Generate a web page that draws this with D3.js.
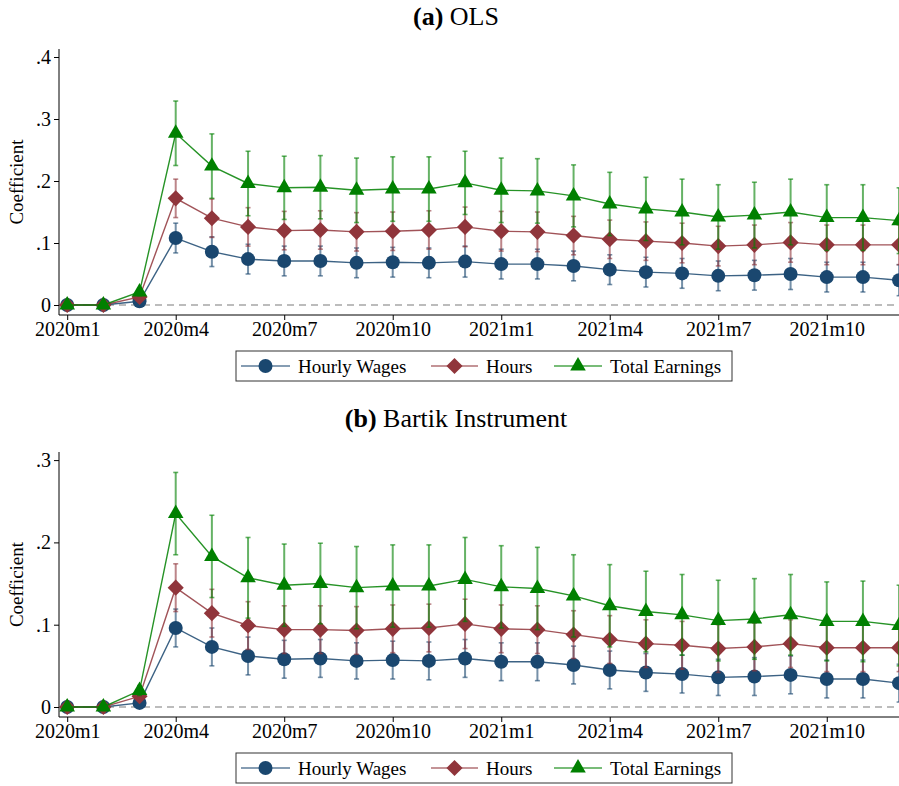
<!DOCTYPE html>
<html>
<head>
<meta charset="utf-8">
<script src="https://cdn.jsdelivr.net/npm/d3@7"></script>
<style>
  body { margin: 0; background: #fff; }
  svg { display: block; font-family: "Liberation Serif", "Times New Roman", serif; }
</style>
</head>
<body>
<div id="chart"></div>
<script>
// months on the x axis
var months = ["2020m1","2020m2","2020m3","2020m4","2020m5","2020m6","2020m7","2020m8","2020m9","2020m10","2020m11","2020m12",
              "2021m1","2021m2","2021m3","2021m4","2021m5","2021m6","2021m7","2021m8","2021m9","2021m10","2021m11","2021m12"];
var xTickLabels = ["2020m1","2020m4","2020m7","2020m10","2021m1","2021m4","2021m7","2021m10"];
var seriesNames = ["Hourly Wages", "Hours", "Total Earnings"];

// (a) OLS coefficients and half width of the 95% CI
var olsWages    = [0, 0, 0.006, 0.108, 0.086, 0.074, 0.071, 0.071, 0.068, 0.069, 0.068, 0.070, 0.066, 0.066, 0.063, 0.057, 0.053, 0.051, 0.047, 0.048, 0.050, 0.045, 0.045, 0.040];
var olsWagesCI  = [0, 0, 0.003, 0.024, 0.024, 0.024, 0.024, 0.024, 0.024, 0.024, 0.024, 0.025, 0.024, 0.024, 0.024, 0.024, 0.024, 0.024, 0.024, 0.024, 0.025, 0.024, 0.024, 0.025];
var olsHours    = [0, 0, 0.013, 0.172, 0.140, 0.126, 0.120, 0.121, 0.118, 0.119, 0.121, 0.126, 0.119, 0.118, 0.112, 0.106, 0.103, 0.100, 0.095, 0.097, 0.101, 0.097, 0.097, 0.097];
var olsHoursCI  = [0, 0, 0.004, 0.031, 0.031, 0.031, 0.031, 0.031, 0.031, 0.031, 0.031, 0.032, 0.032, 0.032, 0.031, 0.031, 0.031, 0.032, 0.032, 0.032, 0.032, 0.032, 0.032, 0.032];
var olsEarn     = [0, 0, 0.021, 0.277, 0.224, 0.196, 0.189, 0.190, 0.185, 0.187, 0.187, 0.197, 0.185, 0.184, 0.176, 0.163, 0.155, 0.150, 0.142, 0.145, 0.150, 0.141, 0.141, 0.136];
var olsEarnCI   = [0, 0, 0.006, 0.052, 0.052, 0.052, 0.051, 0.051, 0.052, 0.052, 0.052, 0.051, 0.052, 0.052, 0.050, 0.051, 0.051, 0.053, 0.052, 0.053, 0.053, 0.053, 0.053, 0.053];

// (b) Bartik instrument coefficients and CI half width
var ivWages     = [0, 0, 0.005, 0.096, 0.073, 0.062, 0.058, 0.059, 0.056, 0.057, 0.056, 0.059, 0.055, 0.055, 0.051, 0.045, 0.042, 0.040, 0.036, 0.037, 0.039, 0.034, 0.034, 0.029];
var ivWagesCI   = [0, 0, 0.003, 0.023, 0.023, 0.023, 0.023, 0.023, 0.022, 0.023, 0.023, 0.023, 0.023, 0.023, 0.023, 0.023, 0.023, 0.023, 0.022, 0.023, 0.023, 0.023, 0.023, 0.023];
var ivHours     = [0, 0, 0.013, 0.145, 0.114, 0.099, 0.094, 0.094, 0.093, 0.095, 0.096, 0.101, 0.095, 0.094, 0.088, 0.082, 0.077, 0.075, 0.071, 0.073, 0.077, 0.072, 0.072, 0.072];
var ivHoursCI   = [0, 0, 0.004, 0.029, 0.029, 0.029, 0.029, 0.029, 0.029, 0.029, 0.029, 0.030, 0.029, 0.029, 0.029, 0.029, 0.029, 0.029, 0.029, 0.029, 0.029, 0.029, 0.029, 0.029];
var ivEarn      = [0, 0, 0.020, 0.235, 0.183, 0.157, 0.148, 0.150, 0.145, 0.147, 0.147, 0.155, 0.146, 0.144, 0.135, 0.123, 0.116, 0.112, 0.105, 0.107, 0.112, 0.104, 0.104, 0.099];
var ivEarnCI    = [0, 0, 0.006, 0.050, 0.050, 0.049, 0.050, 0.049, 0.050, 0.050, 0.050, 0.051, 0.050, 0.050, 0.050, 0.050, 0.049, 0.049, 0.049, 0.049, 0.049, 0.048, 0.049, 0.049];

var yTicksA = [0, 0.1, 0.2, 0.3, 0.4];
var yTicksB = [0, 0.1, 0.2, 0.3];

var W = 899, H = 786;
var colors = ["#1a476f", "#90353b", "#008000"];
var shapes = ["circle", "diamond", "triangle"];

var svg = d3.select("#chart").append("svg")
  .attr("width", W)
  .attr("height", H);

var fmtTick = function(d){ return d === 0 ? "0" : d3.format(".1f")(d).replace(/^0/, ""); };

// marker path generators
function markerPath(shape){
  if(shape === "circle") return d3.symbol().type(d3.symbolCircle).size(Math.PI * 7 * 7)();
  if(shape === "diamond") return d3.symbol().type(d3.symbolSquare).size(130)();
  return d3.symbol().type(d3.symbolTriangle).size(105)();
}
function markerTransform(shape, x, y){
  return "translate(" + x + "," + y + ")" + (shape === "diamond" ? " rotate(45)" : "");
}

// draw one panel
function drawPanel(off, titleTag, titleText, series, yTicks, yMax, pxPerUnit, axisTop){
  var g = svg.append("g").attr("transform", "translate(0," + off + ")");
  var zeroY = 305;
  var x = d3.scaleLinear().domain([0, months.length - 1]).range([67.2, 899.1]);
  var y = d3.scaleLinear().domain([0, yMax]).range([zeroY, zeroY - yMax * pxPerUnit]);
  var left = 59, bottom = 315;

  // title
  var t = g.append("text")
    .attr("x", 456).attr("y", 25)
    .attr("text-anchor", "middle")
    .style("font-size", "26px");
  t.append("tspan").style("font-weight", "bold").text(titleTag);
  t.append("tspan").text(" " + titleText);

  // zero reference line
  g.append("line")
    .attr("x1", left).attr("x2", W)
    .attr("y1", y(0)).attr("y2", y(0))
    .attr("stroke", "#a6a6a6").attr("stroke-width", 1.4)
    .attr("stroke-dasharray", "7,5");

  // y axis
  var yAxis = g.append("g")
    .attr("transform", "translate(" + left + ",0)")
    .call(d3.axisLeft(y).tickValues(yTicks).tickFormat(fmtTick).tickSize(5).tickPadding(3))
    .attr("font-family", null).attr("font-size", null);
  yAxis.select(".domain").remove();
  yAxis.selectAll("text").style("font-size", "20px").attr("fill", "#000");
  yAxis.selectAll("line").attr("stroke", "#000");
  g.append("line").attr("x1", left).attr("x2", left).attr("y1", axisTop).attr("y2", bottom)
    .attr("stroke", "#000").attr("stroke-width", 1);

  // x axis
  var xTickIdx = xTickLabels.map(function(l){ return months.indexOf(l); });
  var xAxis = g.append("g")
    .attr("transform", "translate(0," + bottom + ")")
    .call(d3.axisBottom(x).tickValues(xTickIdx).tickFormat(function(d){ return months[d]; }).tickSize(5).tickPadding(2))
    .attr("font-family", null).attr("font-size", null);
  xAxis.select(".domain").remove();
  xAxis.selectAll("text").style("font-size", "20px").attr("fill", "#000");
  xAxis.selectAll("line").attr("stroke", "#000");
  g.append("line").attr("x1", left).attr("x2", W).attr("y1", bottom).attr("y2", bottom)
    .attr("stroke", "#000").attr("stroke-width", 1);

  // y axis title
  g.append("text")
    .attr("transform", "translate(23," + ((axisTop + bottom) / 2) + ") rotate(-90)")
    .attr("text-anchor", "middle")
    .style("font-size", "19px")
    .text("Coefficient");

  var line = d3.line()
    .x(function(d, i){ return x(i); })
    .y(function(d){ return y(d); });

  series.forEach(function(s, k){
    var sg = g.append("g");
    // CI bars
    s.values.forEach(function(v, i){
      var lo = y(v - s.ci[i]), hi = y(v + s.ci[i]);
      if(s.ci[i] === 0) return;
      sg.append("line").attr("x1", x(i)).attr("x2", x(i)).attr("y1", lo).attr("y2", hi)
        .attr("stroke", colors[k]).attr("stroke-width", 2).attr("opacity", 0.6);
      [lo, hi].forEach(function(yy){
        sg.append("line").attr("x1", x(i) - 2.5).attr("x2", x(i) + 2.5).attr("y1", yy).attr("y2", yy)
          .attr("stroke", colors[k]).attr("stroke-width", 1.6).attr("opacity", 0.6);
      });
    });
    // connecting line
    sg.append("path")
      .datum(s.values)
      .attr("d", line)
      .attr("fill", "none")
      .attr("stroke", colors[k])
      .attr("stroke-width", 1.4)
      .attr("opacity", 0.85);
    // markers
    sg.selectAll(".mk")
      .data(s.values)
      .enter().append("path")
      .attr("d", markerPath(shapes[k]))
      .attr("transform", function(d, i){ return markerTransform(shapes[k], x(i), y(d)); })
      .attr("fill", colors[k]);
  });

  // legend
  var lg = g.append("g");
  lg.append("rect").attr("x", 236).attr("y", 351).attr("width", 496).attr("height", 30)
    .attr("fill", "#fff").attr("stroke", "#333").attr("stroke-width", 1);
  var items = [{x1: 241, x2: 290, tx: 298}, {x1: 431, x2: 478, tx: 486}, {x1: 554, x2: 602, tx: 610}];
  items.forEach(function(it, k){
    var cx = (it.x1 + it.x2) / 2;
    lg.append("line").attr("x1", it.x1).attr("x2", it.x2).attr("y1", 366).attr("y2", 366)
      .attr("stroke", colors[k]).attr("stroke-width", 1.4).attr("opacity", 0.7);
    lg.append("path").attr("d", markerPath(shapes[k]))
      .attr("transform", markerTransform(shapes[k], cx, 366))
      .attr("fill", colors[k]);
    lg.append("text").attr("x", it.tx).attr("y", 373)
      .style("font-size", "19px")
      .text(seriesNames[k]);
  });
}

drawPanel(0, "(a)", "OLS", [
  {values: olsWages, ci: olsWagesCI},
  {values: olsHours, ci: olsHoursCI},
  {values: olsEarn, ci: olsEarnCI}
], yTicksA, 0.4, 620, 49);

drawPanel(402, "(b)", "Bartik Instrument", [
  {values: ivWages, ci: ivWagesCI},
  {values: ivHours, ci: ivHoursCI},
  {values: ivEarn, ci: ivEarnCI}
], yTicksB, 0.3, 823, 50);
</script>
</body>
</html>
